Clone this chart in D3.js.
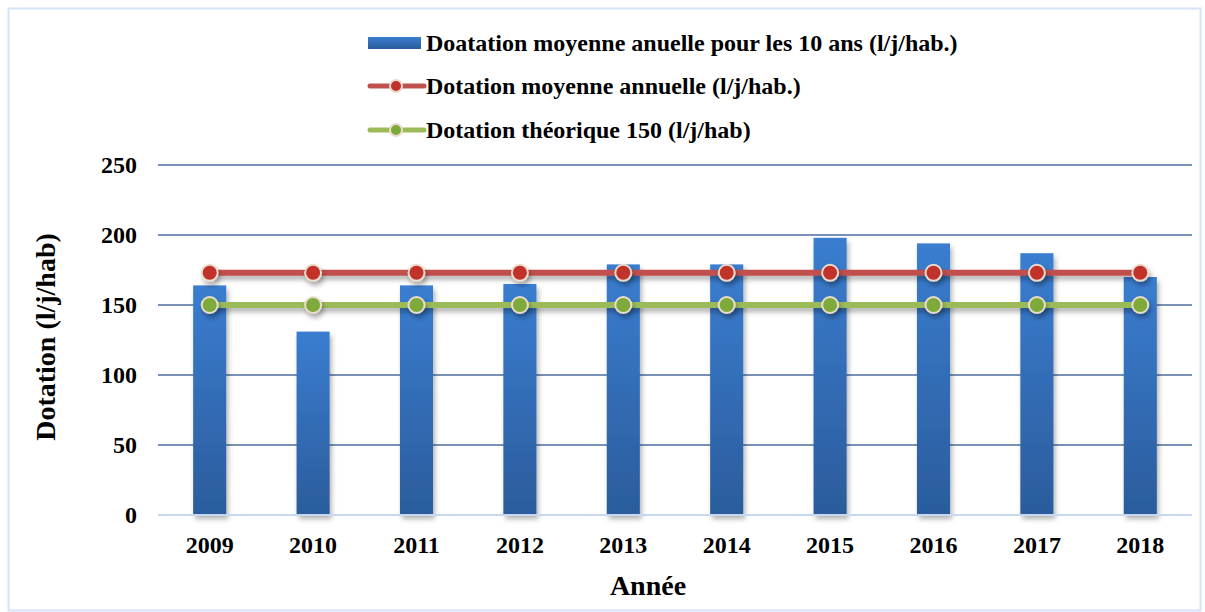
<!DOCTYPE html>
<html>
<head>
<meta charset="utf-8">
<script src="https://cdn.jsdelivr.net/npm/d3@7"></script>
<style>
  body { margin: 0; background: #fff; }
  text { font-family: "Liberation Serif", "Times New Roman", serif; font-weight: bold; fill: #000; }
</style>
</head>
<body>
<div id="chart"></div>
<script>
var years = ["2009", "2010", "2011", "2012", "2013", "2014", "2015", "2016", "2017", "2018"];
var dotationAnnuelle = [164, 131, 164, 165, 179, 179, 198, 194, 187, 170];
var dotationMoyenne = [173, 173, 173, 173, 173, 173, 173, 173, 173, 173];
var dotationTheorique = [150, 150, 150, 150, 150, 150, 150, 150, 150, 150];
var yTicks = [0, 50, 100, 150, 200, 250];
var legendLabels = ["Doatation moyenne anuelle pour les 10 ans (l/j/hab.)",
                    "Dotation moyenne annuelle (l/j/hab.)",
                    "Dotation théorique 150 (l/j/hab)"];

var W = 1205, H = 612;
var margin = {top: 165, right: 13, bottom: 97, left: 158},
    width = W - margin.left - margin.right,
    height = H - margin.top - margin.bottom;

var svg = d3.select("#chart").append("svg")
    .attr("width", W)
    .attr("height", H);

var defs = svg.append("defs");
var grad = defs.append("linearGradient")
    .attr("id", "barGrad")
    .attr("x1", 0).attr("y1", 0).attr("x2", 0).attr("y2", 1);
grad.append("stop").attr("offset", "0%").attr("stop-color", "#3a7dd0");
grad.append("stop").attr("offset", "100%").attr("stop-color", "#2b5c9c");

// userSpaceOnUse so flat lines still get a shadow
var shadow = defs.append("filter").attr("id", "shadow")
    .attr("filterUnits", "userSpaceOnUse")
    .attr("x", -50).attr("y", -50).attr("width", W + 100).attr("height", H + 100);
shadow.append("feDropShadow")
    .attr("dx", 2).attr("dy", 4).attr("stdDeviation", 2.5)
    .attr("flood-color", "#000").attr("flood-opacity", 0.3);

// outer frame
svg.append("rect")
    .attr("x", 8.5).attr("y", 8.5)
    .attr("width", W - 13).attr("height", H - 10)
    .attr("fill", "none")
    .attr("stroke", "#d4e3f5")
    .attr("stroke-width", 2);

var g = svg.append("g")
    .attr("transform", "translate(" + margin.left + "," + margin.top + ")");

var x = d3.scaleBand()
    .domain(years)
    .range([0, width])
    .paddingInner(0.68)
    .paddingOuter(0.34);

var xc = d3.scalePoint()
    .domain(years)
    .range([x(years[0]) + x.bandwidth() / 2, x(years[years.length - 1]) + x.bandwidth() / 2]);

var y = d3.scaleLinear()
    .domain([0, 250])
    .range([height, 0]);

// gridlines
g.selectAll(".grid")
    .data(yTicks.filter(function(d) { return d > 0; }))
    .enter().append("line")
    .attr("x1", 0).attr("x2", width)
    .attr("y1", function(d) { return y(d); })
    .attr("y2", function(d) { return y(d); })
    .attr("stroke", "#4a6e9e")
    .attr("stroke-width", 1.5);

// bars
g.selectAll(".bar")
    .data(years)
    .enter().append("rect")
    .attr("x", function(d) { return x(d); })
    .attr("width", x.bandwidth())
    .attr("y", function(d, i) { return y(dotationAnnuelle[i]); })
    .attr("height", function(d, i) { return height - y(dotationAnnuelle[i]); })
    .attr("fill", "url(#barGrad)")
    .attr("filter", "url(#shadow)");

// baseline
g.append("line")
    .attr("x1", 0).attr("x2", width)
    .attr("y1", y(0)).attr("y2", y(0))
    .attr("stroke", "#c6d9f0")
    .attr("stroke-width", 2);

function drawSeries(values, lineColor, dotColor) {
  var line = d3.line()
      .x(function(d, i) { return xc(years[i]); })
      .y(function(d) { return y(d); });
  g.append("path")
    .datum(values)
    .attr("d", line)
    .attr("fill", "none")
    .attr("stroke", lineColor)
    .attr("stroke-width", 6)
    .attr("filter", "url(#shadow)");
  g.selectAll(null)
    .data(values)
    .enter().append("circle")
    .attr("cx", function(d, i) { return xc(years[i]); })
    .attr("cy", function(d) { return y(d); })
    .attr("r", 8)
    .attr("fill", dotColor)
    .attr("stroke", "#eadccb")
    .attr("stroke-width", 2)
    .attr("filter", "url(#shadow)");
}
drawSeries(dotationTheorique, "#9bbb59", "#7eaa3a");
drawSeries(dotationMoyenne, "#c0504d", "#c0302c");

// axes labels
g.selectAll(".ytick")
    .data(yTicks)
    .enter().append("text")
    .attr("x", -21)
    .attr("y", function(d) { return y(d); })
    .attr("dy", "0.35em")
    .attr("text-anchor", "end")
    .style("font-size", "24px")
    .text(function(d) { return d; });

g.selectAll(".xtick")
    .data(years)
    .enter().append("text")
    .attr("x", function(d) { return xc(d); })
    .attr("y", height + 38)
    .attr("text-anchor", "middle")
    .style("font-size", "24px")
    .text(function(d) { return d; });

svg.append("text")
    .attr("x", 648)
    .attr("y", 595)
    .attr("text-anchor", "middle")
    .style("font-size", "28px")
    .text("Année");

svg.append("text")
    .attr("transform", "translate(55,337) rotate(-90)")
    .attr("text-anchor", "middle")
    .style("font-size", "28px")
    .text("Dotation (l/j/hab)");

// legend
var legend = svg.append("g").attr("transform", "translate(368,0)");
var legY = [43, 86, 130];
legend.append("rect")
    .attr("x", 0).attr("y", legY[0] - 6)
    .attr("width", 53).attr("height", 12)
    .attr("fill", "url(#barGrad)");
[["#c0504d", "#c0302c"], ["#9bbb59", "#7eaa3a"]].forEach(function(c, i) {
  var yy = legY[i + 1];
  legend.append("line")
    .attr("x1", 2).attr("x2", 56)
    .attr("y1", yy).attr("y2", yy)
    .attr("stroke", c[0])
    .attr("stroke-width", 5)
    .attr("stroke-linecap", "round");
  legend.append("circle")
    .attr("cx", 28).attr("cy", yy).attr("r", 6)
    .attr("fill", c[1])
    .attr("stroke", "#eadccb")
    .attr("stroke-width", 2);
});
legend.selectAll(".ltext")
    .data(legendLabels)
    .enter().append("text")
    .attr("x", 58)
    .attr("y", function(d, i) { return legY[i]; })
    .attr("dy", "0.35em")
    .style("font-size", "24px")
    .text(function(d) { return d; });
</script>
</body>
</html>
